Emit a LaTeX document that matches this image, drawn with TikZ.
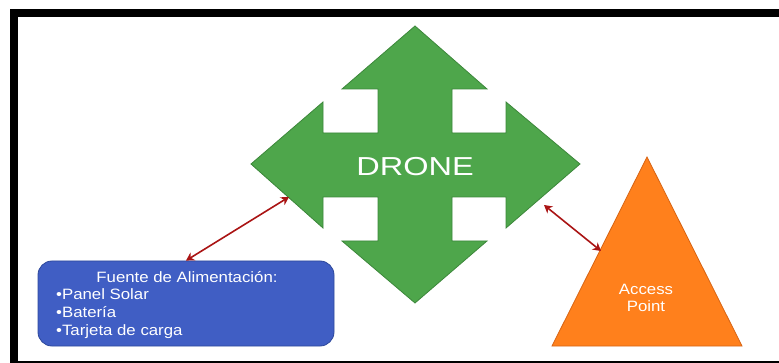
\documentclass[tikz,border=0pt]{standalone}
\usepackage{fontspec}
\usepackage{graphicx}
\setmainfont{Liberation Sans}
\usetikzlibrary{arrows.meta}
\definecolor{crossgreen}{RGB}{78,166,75}
\definecolor{crossedge}{RGB}{60,135,58}
\definecolor{boxblue}{RGB}{64,94,196}
\definecolor{boxedge}{RGB}{45,72,155}
\definecolor{aporange}{RGB}{255,128,28}
\definecolor{apedge}{RGB}{215,100,20}
\definecolor{linkred}{RGB}{170,20,20}
\tikzset{
  link/.style={draw=linkred, line width=1.6pt,
    {Stealth[length=8pt,width=9pt,inset=2.5pt]}-{Stealth[length=8pt,width=9pt,inset=2.5pt]}},
  whitetext/.style={text=white, inner sep=0pt, anchor=base},
}
\begin{document}
\begin{tikzpicture}[x=1pt,y=-1pt]
\useasboundingbox (0,0) rectangle (779,363);
\begin{scope}
\clip (0,0) rectangle (779,363);
\draw[line width=8pt] (14,13) rectangle (800,365);
\end{scope}

% cross (DRONE)
\filldraw[fill=crossgreen, draw=crossedge, line width=0.8pt]
  (415,26) -- (487,89) -- (452,89) -- (452,133) -- (506,133) -- (506,102)
  -- (580,164) -- (506,228) -- (506,197) -- (452,197) -- (452,241)
  -- (487,241) -- (415,303) -- (342,241) -- (378,241) -- (378,197)
  -- (323,197) -- (323,228) -- (251,164) -- (323,102) -- (323,133)
  -- (378,133) -- (378,89) -- (342,89) -- cycle;
\node[whitetext, font=\fontsize{26}{30}\selectfont] (drone) at (415,176)
  {\scalebox{1.25}[1]{DRONE}};
\coordinate (droneSW) at (289,197);
\coordinate (droneSE) at (544,205);

% power box
\node[draw=boxedge, fill=boxblue, line width=0.8pt, rounded corners=14pt,
  minimum width=296pt, minimum height=85pt, inner sep=0pt] (power) at (186,303.5) {};
\node[whitetext, font=\fontsize{15}{18}\selectfont] (ptitle) at (187,283)
  {\scalebox{1.12}[1]{Fuente de Alimentación:}};
\node[whitetext, anchor=base west, font=\fontsize{15}{18}\selectfont] (p1) at (56,300)
  {\scalebox{1.12}[1]{•Panel Solar}};
\node[whitetext, anchor=base west, font=\fontsize{15}{18}\selectfont] (p2) at (56,317.5)
  {\scalebox{1.12}[1]{•Batería}};
\node[whitetext, anchor=base west, font=\fontsize{15}{18}\selectfont] (p3) at (56,335)
  {\scalebox{1.12}[1]{•Tarjeta de carga}};

% access point triangle
\filldraw[fill=aporange, draw=apedge, line width=0.8pt]
  (647,157) -- (742,346) -- (552,346) -- cycle;
\coordinate (apL) at (601,251);
\node[whitetext, font=\fontsize{15}{18}\selectfont] (ap1) at (646,295)
  {\scalebox{1.12}[1]{Access}};
\node[whitetext, font=\fontsize{15}{18}\selectfont] (ap2) at (646,312)
  {\scalebox{1.12}[1]{Point}};

% links
\draw[link] (power.north) -- (droneSW);
\draw[link] (droneSE) -- (apL);
\end{tikzpicture}
\end{document}
